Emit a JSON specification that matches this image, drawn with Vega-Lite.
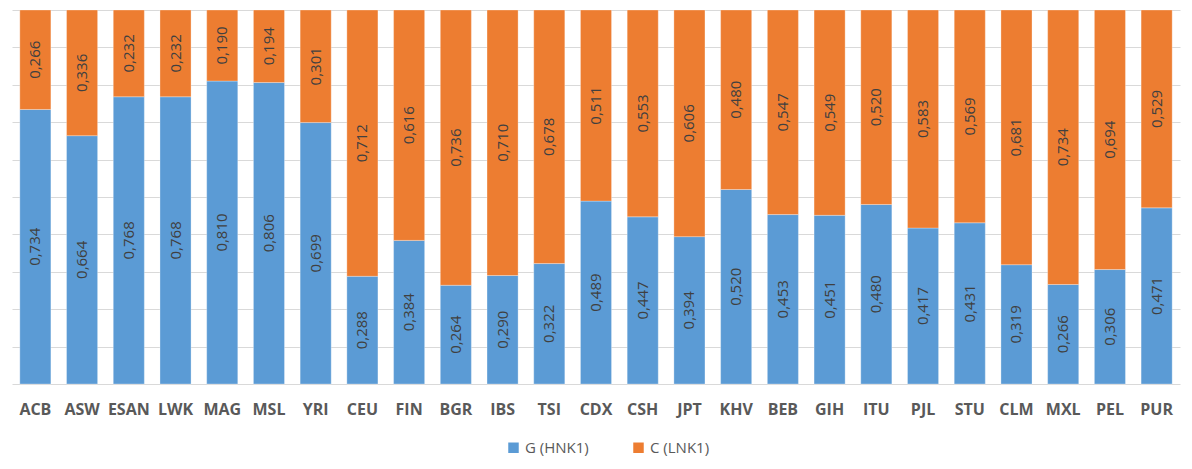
{
  "$schema": "https://vega.github.io/schema/vega-lite/v6.json",
  "width": 1168,
  "height": 374,
  "autosize": "none",
  "padding": {"left": 12, "top": 10, "right": 12, "bottom": 85},
  "background": "white",
  "config": {
    "locale": {"number": {"decimal": ",", "thousands": ".", "grouping": [3], "currency": ["", " €"]}},
    "view": {"stroke": null},
    "font": "Open Sans"
  },
  "data": {
    "values": [
      {"pop": "ACB", "allele": "G (HNK1)", "freq": 0.734},
      {"pop": "ASW", "allele": "G (HNK1)", "freq": 0.664},
      {"pop": "ESAN", "allele": "G (HNK1)", "freq": 0.768},
      {"pop": "LWK", "allele": "G (HNK1)", "freq": 0.768},
      {"pop": "MAG", "allele": "G (HNK1)", "freq": 0.810},
      {"pop": "MSL", "allele": "G (HNK1)", "freq": 0.806},
      {"pop": "YRI", "allele": "G (HNK1)", "freq": 0.699},
      {"pop": "CEU", "allele": "G (HNK1)", "freq": 0.288},
      {"pop": "FIN", "allele": "G (HNK1)", "freq": 0.384},
      {"pop": "BGR", "allele": "G (HNK1)", "freq": 0.264},
      {"pop": "IBS", "allele": "G (HNK1)", "freq": 0.290},
      {"pop": "TSI", "allele": "G (HNK1)", "freq": 0.322},
      {"pop": "CDX", "allele": "G (HNK1)", "freq": 0.489},
      {"pop": "CSH", "allele": "G (HNK1)", "freq": 0.447},
      {"pop": "JPT", "allele": "G (HNK1)", "freq": 0.394},
      {"pop": "KHV", "allele": "G (HNK1)", "freq": 0.520},
      {"pop": "BEB", "allele": "G (HNK1)", "freq": 0.453},
      {"pop": "GIH", "allele": "G (HNK1)", "freq": 0.451},
      {"pop": "ITU", "allele": "G (HNK1)", "freq": 0.480},
      {"pop": "PJL", "allele": "G (HNK1)", "freq": 0.417},
      {"pop": "STU", "allele": "G (HNK1)", "freq": 0.431},
      {"pop": "CLM", "allele": "G (HNK1)", "freq": 0.319},
      {"pop": "MXL", "allele": "G (HNK1)", "freq": 0.266},
      {"pop": "PEL", "allele": "G (HNK1)", "freq": 0.306},
      {"pop": "PUR", "allele": "G (HNK1)", "freq": 0.471},
      {"pop": "ACB", "allele": "C (LNK1)", "freq": 0.266},
      {"pop": "ASW", "allele": "C (LNK1)", "freq": 0.336},
      {"pop": "ESAN", "allele": "C (LNK1)", "freq": 0.232},
      {"pop": "LWK", "allele": "C (LNK1)", "freq": 0.232},
      {"pop": "MAG", "allele": "C (LNK1)", "freq": 0.190},
      {"pop": "MSL", "allele": "C (LNK1)", "freq": 0.194},
      {"pop": "YRI", "allele": "C (LNK1)", "freq": 0.301},
      {"pop": "CEU", "allele": "C (LNK1)", "freq": 0.712},
      {"pop": "FIN", "allele": "C (LNK1)", "freq": 0.616},
      {"pop": "BGR", "allele": "C (LNK1)", "freq": 0.736},
      {"pop": "IBS", "allele": "C (LNK1)", "freq": 0.710},
      {"pop": "TSI", "allele": "C (LNK1)", "freq": 0.678},
      {"pop": "CDX", "allele": "C (LNK1)", "freq": 0.511},
      {"pop": "CSH", "allele": "C (LNK1)", "freq": 0.553},
      {"pop": "JPT", "allele": "C (LNK1)", "freq": 0.606},
      {"pop": "KHV", "allele": "C (LNK1)", "freq": 0.480},
      {"pop": "BEB", "allele": "C (LNK1)", "freq": 0.547},
      {"pop": "GIH", "allele": "C (LNK1)", "freq": 0.549},
      {"pop": "ITU", "allele": "C (LNK1)", "freq": 0.520},
      {"pop": "PJL", "allele": "C (LNK1)", "freq": 0.583},
      {"pop": "STU", "allele": "C (LNK1)", "freq": 0.569},
      {"pop": "CLM", "allele": "C (LNK1)", "freq": 0.681},
      {"pop": "MXL", "allele": "C (LNK1)", "freq": 0.734},
      {"pop": "PEL", "allele": "C (LNK1)", "freq": 0.694},
      {"pop": "PUR", "allele": "C (LNK1)", "freq": 0.529}
    ]
  },
  "encoding": {
    "x": {
      "field": "pop",
      "type": "nominal",
      "sort": null,
      "scale": {"paddingInner": 0.335, "paddingOuter": 0.1675},
      "axis": {
        "title": null,
        "labelAngle": 0,
        "ticks": false,
        "domain": false,
        "labelFont": "Open Sans",
        "labelFontSize": 16,
        "labelFontWeight": "bold",
        "labelColor": "#595959",
        "labelPadding": 17
      }
    },
    "y": {
      "field": "freq",
      "type": "quantitative",
      "stack": "zero",
      "scale": {"domain": [0, 1], "nice": false},
      "axis": {
        "title": null,
        "labels": false,
        "ticks": false,
        "domain": false,
        "values": [0, 0.1, 0.2, 0.3, 0.4, 0.5, 0.6, 0.7, 0.8, 0.9, 1],
        "gridColor": "#D9D9D9",
        "gridWidth": 1
      }
    },
    "order": {"field": "allele", "sort": "descending"}
  },
  "layer": [
    {
      "mark": {"type": "bar", "stroke": "white", "strokeWidth": 0.5, "strokeOpacity": 0.6},
      "encoding": {
        "color": {
          "field": "allele",
          "type": "nominal",
          "sort": ["G (HNK1)", "C (LNK1)"],
          "scale": {"domain": ["G (HNK1)", "C (LNK1)"], "range": ["#5B9BD5", "#ED7D31"]},
          "legend": {
            "title": null,
            "orient": "none",
            "legendX": 494,
            "legendY": 430,
            "direction": "horizontal",
            "symbolType": "square",
            "symbolSize": 110,
            "symbolStrokeWidth": 0,
            "labelFont": "Open Sans",
            "labelFontSize": 15,
            "labelColor": "#595959",
            "columnPadding": 42
          }
        }
      }
    },
    {
      "mark": {"type": "text", "angle": 270, "font": "Open Sans", "fontSize": 15, "color": "#404040", "baseline": "middle", "align": "center"},
      "encoding": {
        "y": {"field": "freq", "type": "quantitative", "stack": "zero", "bandPosition": 0.5},
        "text": {"field": "freq", "type": "quantitative", "format": ".3f"}
      }
    }
  ]
}
